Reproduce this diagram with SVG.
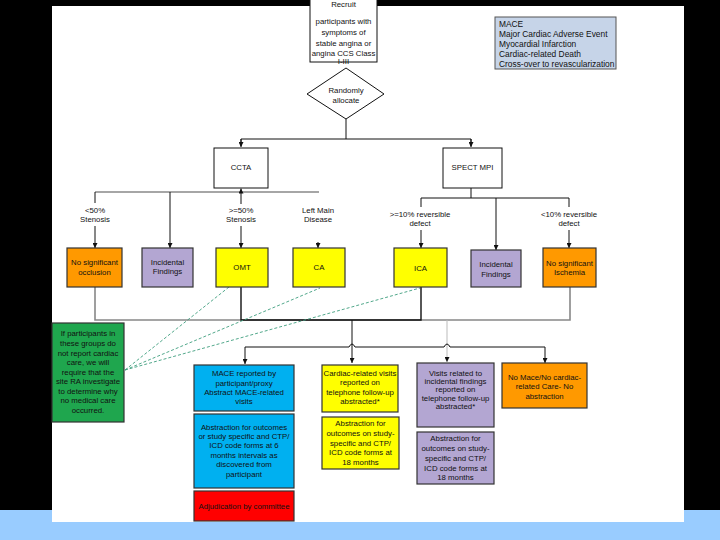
<svg xmlns="http://www.w3.org/2000/svg" width="720" height="540" viewBox="0 0 720 540">
<defs>
<style>
text{font-family:"Liberation Sans",Arial,sans-serif;font-size:7.8px;fill:#111;text-anchor:middle}
.lg{text-anchor:start;font-size:8.4px}
.bx{stroke:#333;stroke-width:1.2}
.wb{fill:#fff;stroke:#111;stroke-width:1}
.or{fill:#FF9900}.pu{fill:#B3A6D2}.ye{fill:#FFFF00}.bl{fill:#00B0F0}.re{fill:#FF0000}.gr{fill:#1FA64E}
.ln{fill:none;stroke:#111;stroke-width:1}
.gl{fill:none;stroke:#888;stroke-width:1.6}
.dash{fill:none;stroke:#3E9E7E;stroke-width:0.9;stroke-dasharray:3 2}
</style>
<marker id="ah" viewBox="0 0 10 10" refX="10" refY="5" markerWidth="5" markerHeight="5" orient="auto" markerUnits="userSpaceOnUse">
<path d="M0,0 L10,5 L0,10 z" fill="#111"/>
</marker>
</defs>
<rect x="0" y="0" width="720" height="540" fill="#000"/>
<rect x="0" y="510" width="720" height="30" fill="#99CCFF"/>
<rect x="52" y="6" width="632" height="516" fill="#fff"/>

<g id="connectors">
<line class="ln" x1="346" y1="119" x2="346" y2="139"/>
<polyline class="ln" points="241,146 241,139 471,139 471,146"/>
<line class="ln" x1="241" y1="139" x2="241" y2="147" marker-end="url(#ah)"/>
<line class="ln" x1="471" y1="139" x2="471" y2="147" marker-end="url(#ah)"/>
<line class="gl" x1="95" y1="192" x2="319" y2="192"/>
<line class="ln" x1="241" y1="204" x2="241" y2="188.5" marker-end="url(#ah)"/>
<line class="ln" x1="95" y1="192" x2="95" y2="203"/>
<line class="ln" x1="95" y1="226" x2="95" y2="248" marker-end="url(#ah)"/>
<line class="ln" x1="170" y1="192" x2="170" y2="248" marker-end="url(#ah)"/>
<line class="ln" x1="241" y1="226" x2="241" y2="248" marker-end="url(#ah)"/>
<line class="ln" x1="318" y1="242" x2="318" y2="248" marker-end="url(#ah)"/>
<line class="ln" x1="471" y1="188" x2="471" y2="198"/>
<line class="ln" x1="421" y1="198" x2="569" y2="198"/>
<line class="ln" x1="421" y1="198" x2="421" y2="207"/>
<line class="ln" x1="421" y1="230" x2="421" y2="248" marker-end="url(#ah)"/>
<line class="ln" x1="496" y1="198" x2="496" y2="250" marker-end="url(#ah)"/>
<line class="ln" x1="569" y1="198" x2="569" y2="207"/>
<line class="ln" x1="569" y1="230" x2="569" y2="248" marker-end="url(#ah)"/>
<polyline class="gl" points="95,287 95,320 570,320 570,287"/>
<polyline class="ln" points="241,287 241,320 421,320 421,287" style="stroke-width:1.4"/>
<line class="ln" x1="352" y1="320" x2="352" y2="363" marker-end="url(#ah)"/>
<line x1="447" y1="320" x2="447" y2="362" stroke="#bbb" stroke-width="1" marker-end="url(#ah)"/>
<path class="ln" d="M245,347 L349,347 Q352,341 355,347 L444,347 Q447,341 450,347 L545,347"/>
<line class="ln" x1="245" y1="347" x2="245" y2="364" marker-end="url(#ah)"/>
<line class="ln" x1="545" y1="347" x2="545" y2="363" marker-end="url(#ah)"/>
<line class="dash" x1="125" y1="370" x2="229" y2="287"/>
<line class="dash" x1="125" y1="370" x2="320" y2="288"/>
<line class="dash" x1="125" y1="370" x2="420" y2="288"/>
</g>

<g id="recruit"><rect class="wb" x="310" y="-1" width="67" height="63"/>
<text x="343.5" y="7">Recruit</text><text x="343.5" y="24">participants with</text><text x="343.5" y="35">symptoms of</text><text x="343.5" y="45.5">stable angina or</text><text x="343.5" y="56">angina CCS Class</text><text x="343.5" y="64">I-III</text></g>

<g id="mace-legend"><rect x="495" y="17" width="121" height="52" fill="#C6D4E8" stroke="#555" stroke-width="1"/>
<text class="lg" x="499" y="27">MACE</text><text class="lg" x="499" y="37">Major Cardiac Adverse Event</text><text class="lg" x="499" y="47">Myocardial Infarction</text><text class="lg" x="499" y="57">Cardiac-related Death</text><text class="lg" x="499" y="67">Cross-over to revascularization</text></g>

<g id="randomly"><polygon points="346,68 384,94 346,119 307,94" fill="#fff" stroke="#111" stroke-width="1"/>
<text x="346" y="93">Randomly</text><text x="346" y="103">allocate</text></g>

<g id="ccta"><rect class="wb" x="214" y="148" width="54" height="40"/><text x="241" y="170">CCTA</text></g>
<g id="spect"><rect class="wb" x="443" y="148" width="59" height="40"/><text x="472.5" y="170">SPECT MPI</text></g>

<g id="lbl-lt50"><text x="95" y="213">&lt;50%</text><text x="95" y="222">Stenosis</text></g>
<g id="lbl-ge50"><text x="241" y="213">&gt;=50%</text><text x="241" y="222">Stenosis</text></g>
<g id="lbl-lmd"><text x="318" y="213">Left Main</text><text x="318" y="222">Disease</text></g>
<g id="lbl-ge10"><text x="420" y="217">&gt;=10% reversible</text><text x="420" y="226">defect</text></g>
<g id="lbl-lt10"><text x="569" y="217">&lt;10% reversible</text><text x="569" y="226">defect</text></g>

<g id="no-occlusion"><rect class="bx or" x="67" y="248" width="55" height="39"/><text x="94.5" y="265">No significant</text><text x="94.5" y="275">occlusion</text></g>
<g id="incidental1"><rect class="bx pu" x="142" y="248" width="51" height="39"/><text x="167.5" y="265">Incidental</text><text x="167.5" y="274">Findings</text></g>
<g id="omt"><rect class="bx ye" x="216" y="248" width="52" height="39"/><text x="242" y="270">OMT</text></g>
<g id="ca"><rect class="bx ye" x="293" y="248" width="52" height="39"/><text x="319" y="270">CA</text></g>
<g id="ica"><rect class="bx ye" x="394" y="248" width="53" height="39"/><text x="420.5" y="271">ICA</text></g>
<g id="incidental2"><rect class="bx pu" x="471" y="250" width="50" height="37"/><text x="496" y="267">Incidental</text><text x="496" y="277">Findings</text></g>
<g id="no-ischemia"><rect class="bx or" x="543" y="248" width="53" height="39"/><text x="569.5" y="266">No significant</text><text x="569.5" y="275">Ischemia</text></g>

<g id="green-note"><rect class="bx gr" x="52" y="323" width="72" height="99"/>
<text x="88" y="336">If participants in</text><text x="88" y="346">these groups do</text><text x="88" y="355.5">not report cardiac</text><text x="88" y="365">care, we will</text><text x="88" y="374.5">require that the</text><text x="88" y="384">site RA investigate</text><text x="88" y="393.5">to determine why</text><text x="88" y="403">no medical care</text><text x="88" y="413">occurred.</text></g>

<g id="mace-reported"><rect class="bx bl" x="194" y="365" width="100" height="46"/>
<text x="244" y="376">MACE reported by</text><text x="244" y="386">participant/proxy</text><text x="244" y="395">Abstract MACE-related</text><text x="244" y="404">visits</text></g>
<g id="abstraction-6"><rect class="bx bl" x="194" y="414" width="100" height="74"/>
<text x="244" y="430">Abstraction for outcomes</text><text x="244" y="438.5">or study specific and CTP/</text><text x="244" y="448">ICD code forms at 6</text><text x="244" y="458">months intervals as</text><text x="244" y="467">discovered from</text><text x="244" y="477">participant</text></g>
<g id="adjudication"><rect class="bx re" x="194" y="491" width="100" height="30"/><text x="244" y="509">Adjudication by committee</text></g>

<g id="cardiac-visits"><rect class="bx ye" x="322" y="365" width="76" height="47"/>
<text x="360" y="376">Cardiac-related visits</text><text x="360" y="385">reported on</text><text x="360" y="395">telephone follow-up</text><text x="360" y="404">abstracted*</text></g>
<g id="abstraction-18a"><rect class="bx ye" x="322" y="417" width="77" height="52"/>
<text x="360.5" y="426">Abstraction for</text><text x="360.5" y="436">outcomes on study-</text><text x="360.5" y="446">specific and CTP/</text><text x="360.5" y="455">ICD code forms at</text><text x="360.5" y="465">18 months</text></g>

<g id="incidental-visits"><rect class="bx pu" x="417" y="363" width="77" height="64"/>
<text x="455.5" y="376">Visits related to</text><text x="455.5" y="384">incidental findings</text><text x="455.5" y="392">reported on</text><text x="455.5" y="401">telephone follow-up</text><text x="455.5" y="409">abstracted*</text></g>
<g id="abstraction-18b"><rect class="bx pu" x="417" y="432" width="77" height="52"/>
<text x="455.5" y="441">Abstraction for</text><text x="455.5" y="451">outcomes on study-</text><text x="455.5" y="461">specific and CTP/</text><text x="455.5" y="471">ICD code forms at</text><text x="455.5" y="480">18 months</text></g>

<g id="no-mace"><rect class="bx or" x="502" y="363" width="85" height="45"/>
<text x="544.5" y="380">No Mace/No cardiac-</text><text x="544.5" y="389">related Care- No</text><text x="544.5" y="399">abstraction</text></g>
</svg>
